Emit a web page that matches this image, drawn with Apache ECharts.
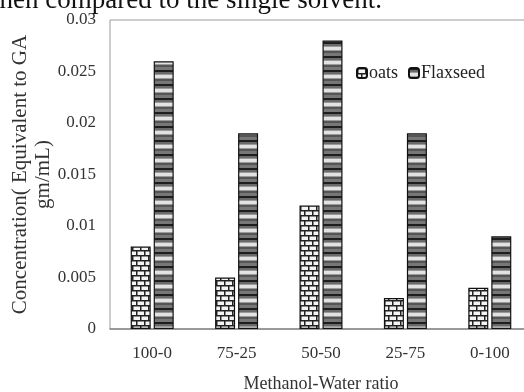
<!DOCTYPE html>
<html>
<head>
<meta charset="utf-8">
<script src="https://cdn.jsdelivr.net/npm/echarts@6/dist/echarts.min.js"></script>
<style>
  html, body { margin: 0; padding: 0; background: #fff; }
  #chart { width: 524px; height: 392px; }
</style>
</head>
<body>
<div id="chart"></div>
<script>
// Methanol-water solvent ratios and extract concentrations (GA equivalents, gm/mL)
const categories = ['100-0', '75-25', '50-50', '25-75', '0-100'];
const oats = [0.008, 0.005, 0.012, 0.003, 0.004];
const flaxseed = [0.026, 0.019, 0.028, 0.019, 0.009];
const yTicks = [0, 0.005, 0.01, 0.015, 0.02, 0.025, 0.03];

const SERIF = '"Liberation Serif", "DejaVu Serif", serif';

// Brick-style fill for the oats bars
function brickPattern() {
  const c = document.createElement('canvas');
  c.width = 8; c.height = 10;
  const g = c.getContext('2d');
  g.fillStyle = '#f4f4f4';
  g.fillRect(0, 0, 8, 10);
  g.fillStyle = '#222';
  g.fillRect(0, 0, 8, 1.5);
  g.fillRect(0, 5, 8, 1.5);
  g.fillRect(0, 0, 1.5, 5);
  g.fillRect(4, 5, 1.5, 5);
  return c;
}

// Banded grey fill for the flaxseed bars
function stripePattern() {
  const c = document.createElement('canvas');
  c.width = 4; c.height = 14;
  const g = c.getContext('2d');
  const bands = [
    ['#1e1e1e', 2], ['#6a6a6a', 2], ['#9a9a9a', 1], ['#e2e2e2', 3],
    ['#9a9a9a', 1], ['#555555', 2], ['#777777', 3]
  ];
  let y = 0;
  bands.forEach(([col, h]) => { g.fillStyle = col; g.fillRect(0, y, 4, h); y += h; });
  return c;
}

const chart = echarts.init(document.getElementById('chart'), null, { renderer: 'canvas' });

chart.setOption({
  animation: false,
  backgroundColor: '#ffffff',
  textStyle: { fontFamily: SERIF },
  graphic: [{
    type: 'text',
    left: -20,
    top: -13,
    style: {
      text: 'when compared to the single solvent.',
      font: '27px ' + SERIF,
      fill: '#111'
    }
  }],
  grid: {
    left: 110,
    top: 20,
    width: 422,
    height: 309,
    show: true,
    borderColor: '#9a9a9a',
    borderWidth: 1,
    containLabel: false,
    outerBoundsMode: 'none'
  },
  legend: {
    left: 351,
    top: 59,
    itemWidth: 10,
    itemHeight: 10,
    itemGap: 10,
    textStyle: { fontFamily: SERIF, fontSize: 18, color: '#222', padding: [0, 0, 0, -3] },
    data: ['oats', 'Flaxseed']
  },
  xAxis: {
    type: 'category',
    data: categories,
    name: 'Methanol-Water ratio',
    nameLocation: 'middle',
    nameGap: 46,
    nameMoveOverlap: false,
    nameTextStyle: { fontFamily: SERIF, fontSize: 18, color: '#333' },
    axisLine: { lineStyle: { color: '#888', width: 1.5 } },
    axisTick: { show: false },
    axisLabel: { fontFamily: SERIF, fontSize: 17, color: '#333', margin: 16 }
  },
  yAxis: {
    type: 'value',
    min: yTicks[0],
    max: yTicks[yTicks.length - 1],
    interval: 0.005,
    name: 'Concentration( Equivalent to GA\ngm/mL)',
    nameLocation: 'middle',
    nameRotate: 90,
    nameGap: 55,
    nameMoveOverlap: false,
    nameTextStyle: { fontFamily: SERIF, fontSize: 21, color: '#333', lineHeight: 23 },
    axisLine: { show: false },
    axisTick: { show: false },
    splitLine: { show: false },
    axisLabel: {
      fontFamily: SERIF, fontSize: 17, color: '#333', margin: 14,
      formatter: v => String(+v.toFixed(3))
    }
  },
  series: [
    {
      name: 'oats',
      type: 'bar',
      data: oats,
      barWidth: 20,
      barGap: '15%',
      itemStyle: {
        color: { image: brickPattern(), repeat: 'repeat' },
        borderColor: '#111',
        borderWidth: 1.2
      }
    },
    {
      name: 'Flaxseed',
      type: 'bar',
      data: flaxseed,
      barWidth: 20,
      barGap: '15%',
      itemStyle: {
        color: { image: stripePattern(), repeat: 'repeat' },
        borderColor: '#111',
        borderWidth: 1.2
      }
    }
  ]
});
</script>
</body>
</html>
